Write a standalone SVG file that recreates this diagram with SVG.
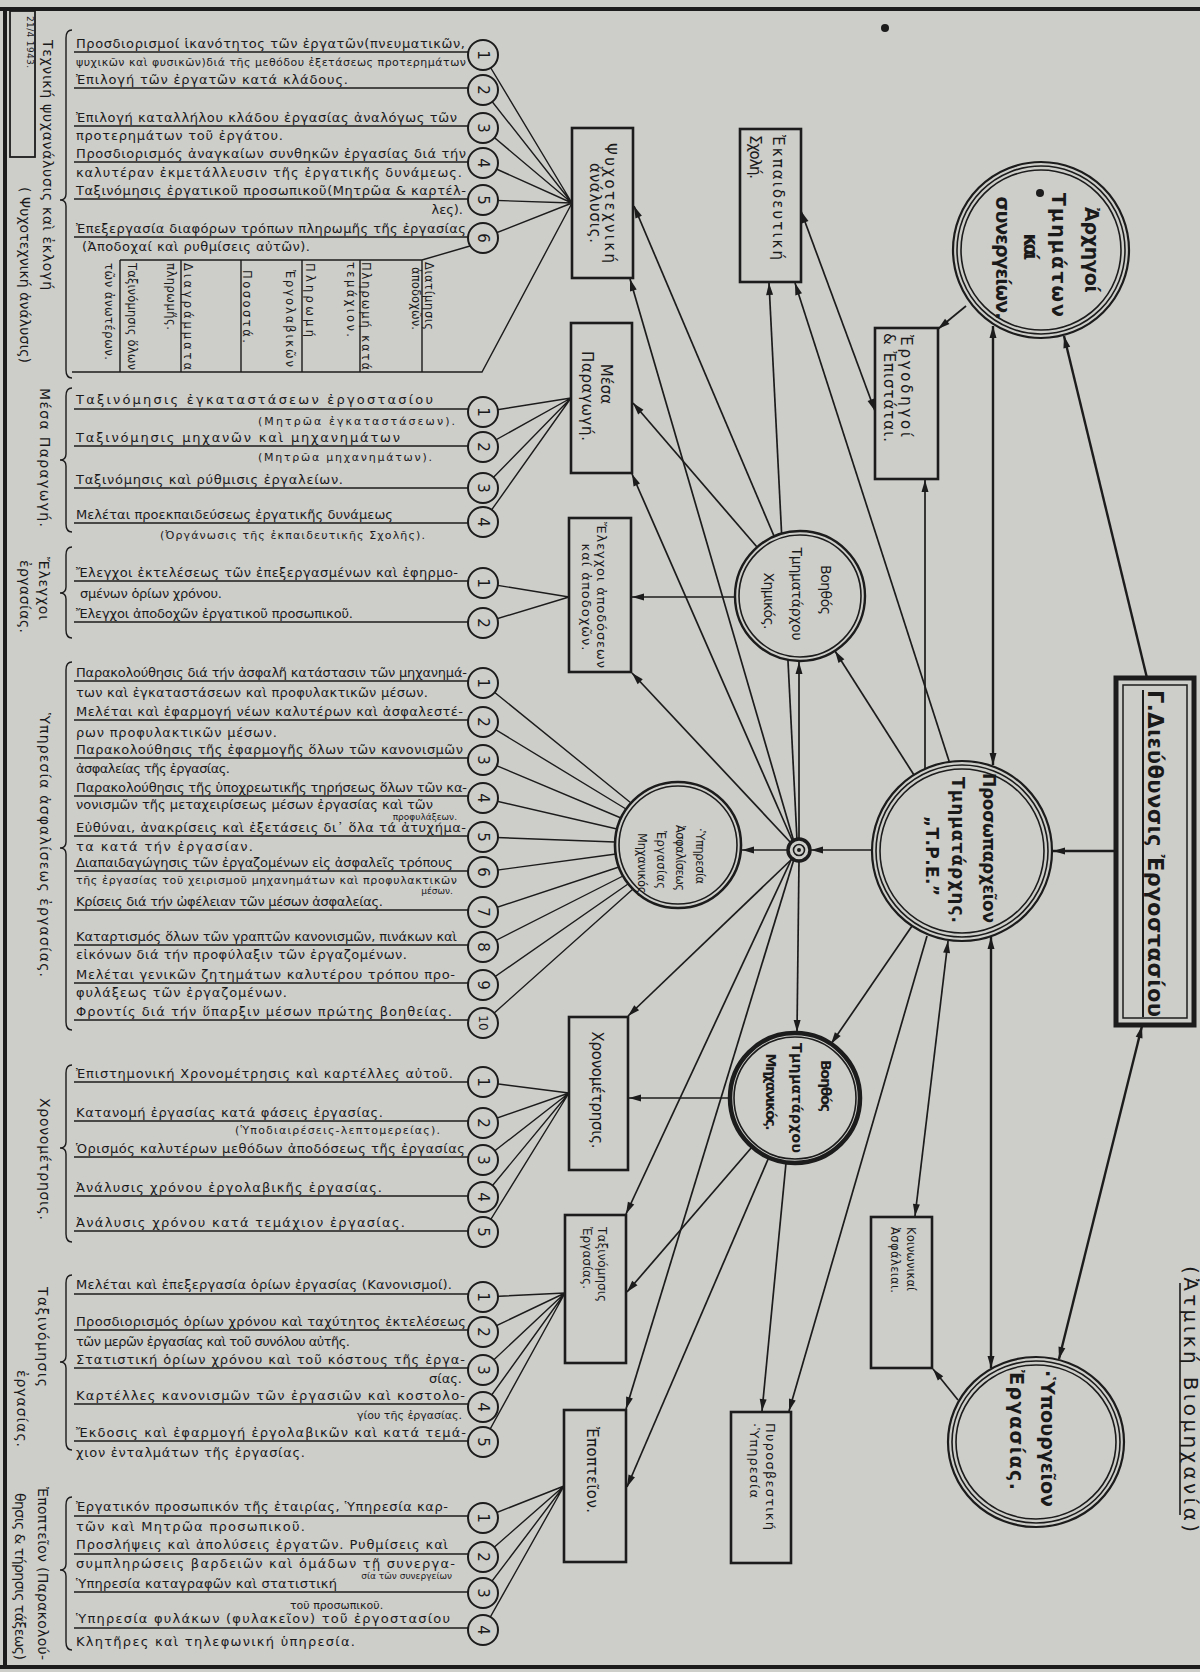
<svg xmlns="http://www.w3.org/2000/svg" width="1200" height="1672" viewBox="0 0 1200 1672">
<defs>
<style>
.ln{stroke:#1c1c1c;stroke-width:1.4;fill:none}
.cn{stroke:#1c1c1c;stroke-width:1.7;fill:none}
.ck{stroke:#1c1c1c;stroke-width:2.4;fill:none}
.fr{stroke:#1c1c1c;stroke-width:4;fill:none}
.box{fill:#cdcdca;stroke:#1c1c1c;stroke-width:2.6}
.nc{fill:#cdcdca;stroke:#1c1c1c;stroke-width:2}
.el{fill:none;stroke:#1c1c1c;stroke-width:1.6}
text{font-family:"DejaVu Sans","Noto Sans",sans-serif;fill:#1a1a1a}
.t{font-size:13px}
.s{font-size:11px}
.x{font-size:9px}
.n{font-size:15px}
.lb{font-size:14px}
.m{font-size:15px}
.sb{font-size:11.5px}
.b{font-weight:bold}
</style>
<marker id="ah" viewBox="0 0 12 8" refX="12" refY="4" markerWidth="13" markerHeight="8" markerUnits="userSpaceOnUse" orient="auto-start-reverse"><path d="M0,0.5 L12,4 L0,7.5 Z" fill="#1c1c1c"/></marker>
</defs>
<rect width="1200" height="1672" fill="#cdcdca"/>
<g id="frame">
<path class="fr" d="M0,9H1200M5,7V1668M0,1667H1200"/>
<rect x="10" y="11" width="25" height="146" fill="none" stroke="#1c1c1c" stroke-width="1.8"/>
<text class="x" transform="translate(27,16) rotate(90)" textLength="52">21/4 1943.</text>
<circle cx="885" cy="28" r="4" fill="#1c1c1c"/>
</g>

<g id="section-labels">
<text class="lb" transform="translate(43,40) rotate(90)" textLength="250">Τεχνική ψυχανάλυσις καὶ ἐκλογή</text>
<text class="lb" transform="translate(20,187) rotate(90)" textLength="176">( Ψυχοτεχνική ἀνάλυσις)</text>
<text class="lb" transform="translate(40,388) rotate(90)" textLength="139">Μέσα Παραγωγή.</text>
<text class="lb" transform="translate(39,557) rotate(90)" textLength="63">Ἔλεγχοι</text>
<text class="lb" transform="translate(20,560) rotate(90)" textLength="73">ἐργασίας.</text>
<text class="lb" transform="translate(40,713) rotate(90)" textLength="264">Ὑπηρεσία ἀσφαλίσεως ἐργασίας.</text>
<text class="lb" transform="translate(40,1098) rotate(90)" textLength="122">Χρονομέτρησις.</text>
<text class="lb" transform="translate(38,1287) rotate(90)" textLength="100">Ταξινόμησις</text>
<text class="lb" transform="translate(17,1370) rotate(90)" textLength="77">ἐργασίας.</text>
<text class="lb" transform="translate(38,1487) rotate(90)" textLength="173">Ἐποπτεῖον (Παρακολού-</text>
<text class="lb" transform="translate(15,1493) rotate(90)" textLength="167">θησις &amp; τήρησις τάξεως)</text>
<path class="ln" stroke-width="1.8" d="M72,30Q66,30 66,38L66,194Q66,200 60,200Q66,200 66,206L66,370Q66,378 72,378
M72,388Q66,388 66,396L66,454Q66,460 60,460Q66,460 66,466L66,524Q66,532 72,532
M72,547Q66,547 66,555L66,587Q66,593 60,593Q66,593 66,599L66,630Q66,638 72,638
M72,662Q66,662 66,670L66,842Q66,848 60,848Q66,848 66,854L66,1022Q66,1030 72,1030
M72,1065Q66,1065 66,1073L66,1142Q66,1148 60,1148Q66,1148 66,1154L66,1234Q66,1242 72,1242
M72,1275Q66,1275 66,1283L66,1356Q66,1362 60,1362Q66,1362 66,1368L66,1442Q66,1450 72,1450
M72,1497Q66,1497 66,1505L66,1564Q66,1570 60,1570Q66,1570 66,1576L66,1642Q66,1650 72,1650"/>
</g>

<g id="connectors">
<path class="ln" d="M483,55L572,203M483,90L572,203M483,128L572,203M483,163L572,203M483,200L572,203M483,238L572,203
M72,372H482L572,203M120,260H422L470,246M120,260V372M181,260V372M241,260V372M302,260V372M360,260V372M422,260V372
M483,412L571,398M483,447L571,398M483,488L571,398M483,522L571,398
M483,583L569,597M483,623L569,597
M483,683L631,803M483,722L626,809M483,760L621,818M483,798L617,829M483,837L615,842M483,872L616,854M483,912L619,867M483,947L623,876M483,985L628,884M483,1023L633,889
M483,1082L569,1093M483,1123L569,1093M483,1160L569,1093M483,1197L569,1093M483,1232L569,1093
M483,1297L565,1293M483,1332L565,1293M483,1370L565,1293M483,1407L565,1293M483,1442L565,1293
M483,1518L564,1486M483,1557L564,1486M483,1593L564,1486M483,1630L564,1486"/>
<path class="ln" d="M74,52H483M74,88H483M74,126H483M74,162H483M74,199H483M74,237H483
M74,409H483M74,446H483M74,488H483M74,523H483
M74,581H483M74,622H483
M74,681H483M74,720H483M74,758H483M74,796H483M74,836H483M74,871H483M74,910H483M74,945H483M74,983H483M74,1020H483
M74,1082H483M74,1121H483M74,1157H483M74,1196H483M74,1231H483
M74,1294H483M74,1330H483M74,1368H483M74,1404H483M74,1441H483
M74,1516H483M74,1554H483M74,1592H483M74,1628H483"/>
<g class="cn" marker-end="url(#ah)">
<path class="ck" d="M1147,678L1064,336"/>
<path d="M966,306L938,329"/>
<path d="M925,770L925,480"/>
<path d="M950,764L795,283"/>
<path d="M797,840L769,283"/>
<path d="M794,842L630,279"/>
<path d="M774,536L634,206"/>
<path d="M757,547L633,403"/>
<path d="M793,842L632,474"/>
<path d="M792,844L632,673"/>
<path d="M735,597L632,597"/>
<path d="M799,840L799,662"/>
<path d="M914,775L835,651"/>
<path d="M872,850L811,850"/>
<path d="M789,850L742,850"/>
<path class="ck" d="M1116,851L1053,851"/>
<path d="M793,858L628,1016"/>
<path d="M799,861L797,1032"/>
<path d="M912,926L831,1044"/>
<path d="M730,1098L629,1098"/>
<path d="M792,858L626,1214"/>
<path d="M794,859L626,1409"/>
<path d="M752,1147L627,1292"/>
<path d="M769,1157L627,1487"/>
<path d="M786,1163L762,1411"/>
<path d="M927,936L789,1411"/>
<path d="M958,1400L933,1369"/>
</g>
<g class="cn" marker-start="url(#ah)" marker-end="url(#ah)">
<path class="ck" d="M993,326L993,765"/>
<path d="M801,211L875,411"/>
<path d="M948,941L915,1216"/>
<path class="ck" d="M991,937L991,1368"/>
<path class="ck" d="M1142,1026L1059,1359"/>
</g>
</g>

<g id="list-psychotechnical">
<text class="t" x="76" y="48" textLength="389">Προσδιορισμοί ἱκανότητος τῶν ἐργατῶν(πνευματικῶν,</text>
<text class="s" x="76" y="66" textLength="390">ψυχικῶν καὶ φυσικῶν)διά τῆς μεθόδου ἐξετάσεως προτερημάτων</text>
<text class="t" x="76" y="84" textLength="272">Ἐπιλογή τῶν ἐργατῶν κατά κλάδους.</text>
<text class="t" x="76" y="122" textLength="381">Ἐπιλογή καταλλήλου κλάδου ἐργασίας ἀναλόγως τῶν</text>
<text class="t" x="76" y="140" textLength="207">προτερημάτων τοῦ ἐργάτου.</text>
<text class="t" x="76" y="158" textLength="390">Προσδιορισμός ἀναγκαίων συνθηκῶν ἐργασίας διά τήν</text>
<text class="t" x="76" y="177" textLength="386">καλυτέραν ἐκμετάλλευσιν τῆς ἐργατικῆς δυνάμεως.</text>
<text class="t" x="76" y="195" textLength="390">Ταξινόμησις ἐργατικοῦ προσωπικοῦ(Μητρῶα &amp; καρτέλ-</text>
<text class="t" x="463" y="214" text-anchor="end">λες).</text>
<text class="t" x="76" y="233" textLength="390">Ἐπεξεργασία διαφόρων τρόπων πληρωμῆς τῆς ἐργασίας</text>
<text class="t" x="82" y="251" textLength="228">(Ἀποδοχαί καὶ ρυθμίσεις αὐτῶν).</text>
<text class="sb" transform="translate(128,263) rotate(90)" textLength="107">Ταξινόμησις ὅλων</text>
<text class="sb" transform="translate(105,263) rotate(90)" textLength="97">τῶν ἀνωτέρων.</text>
<text class="sb" transform="translate(184,263) rotate(90)" textLength="107">Διαγράμματα</text>
<text class="sb" transform="translate(167,263) rotate(90)" textLength="67">πληρωμῆς.</text>
<text class="sb" transform="translate(243,270) rotate(90)" textLength="73">Ποσοστά.</text>
<text class="sb" transform="translate(306,263) rotate(90)" textLength="74">Πληρωμή</text>
<text class="sb" transform="translate(286,270) rotate(90)" textLength="97">Ἐργολαβικῶν</text>
<text class="sb" transform="translate(362,262) rotate(90)" textLength="108">Πληρωμή κατά</text>
<text class="sb" transform="translate(347,262) rotate(90)" textLength="75">τεμάχιον.</text>
<text class="sb" transform="translate(425,262) rotate(90)" textLength="68">Διατίμησις</text>
<text class="sb" transform="translate(412,267) rotate(90)" textLength="63">ἀποδοχῶν.</text>
<g class="nc"><circle cx="483" cy="55" r="15"/><circle cx="483" cy="90" r="15"/><circle cx="483" cy="128" r="15"/><circle cx="483" cy="163" r="15"/><circle cx="483" cy="200" r="15"/><circle cx="483" cy="238" r="15"/></g>
<g class="n" text-anchor="middle">
<text transform="translate(478,55) rotate(90)">1</text><text transform="translate(478,90) rotate(90)">2</text><text transform="translate(478,128) rotate(90)">3</text><text transform="translate(478,163) rotate(90)">4</text><text transform="translate(478,200) rotate(90)">5</text><text transform="translate(478,238) rotate(90)">6</text>
</g>
</g>

<g id="list-production">
<text class="t" x="76" y="404" textLength="357">Ταξινόμησις ἐγκαταστάσεων ἐργοστασίου</text>
<text class="s" x="258" y="425" textLength="197">(Μητρῶα ἐγκαταστάσεων).</text>
<text class="t" x="76" y="442" textLength="324">Ταξινόμησις μηχανῶν καὶ μηχανημάτων</text>
<text class="s" x="258" y="461" textLength="174">(Μητρῶα μηχανημάτων).</text>
<text class="t" x="76" y="484" textLength="267">Ταξινόμησις καὶ ρύθμισις ἐργαλείων.</text>
<text class="t" x="76" y="519" textLength="317">Μελέται προεκπαιδεύσεως ἐργατικῆς δυνάμεως</text>
<text class="s" x="160" y="539" textLength="265">(Ὀργάνωσις τῆς ἐκπαιδευτικῆς Σχολῆς).</text>
<g class="nc"><circle cx="483" cy="412" r="15"/><circle cx="483" cy="447" r="15"/><circle cx="483" cy="488" r="15"/><circle cx="483" cy="522" r="15"/></g>
<g class="n" text-anchor="middle">
<text transform="translate(478,412) rotate(90)">1</text><text transform="translate(478,447) rotate(90)">2</text><text transform="translate(478,488) rotate(90)">3</text><text transform="translate(478,522) rotate(90)">4</text>
</g>
</g>

<g id="list-controls">
<text class="t" x="76" y="577" textLength="382">Ἔλεγχοι ἐκτελέσεως τῶν ἐπεξεργασμένων καὶ ἐφηρμο-</text>
<text class="t" x="80" y="598" textLength="142">σμένων ὁρίων χρόνου.</text>
<text class="t" x="76" y="618" textLength="277">Ἔλεγχοι ἀποδοχῶν ἐργατικοῦ προσωπικοῦ.</text>
<g class="nc"><circle cx="483" cy="583" r="15"/><circle cx="483" cy="623" r="15"/></g>
<g class="n" text-anchor="middle">
<text transform="translate(478,583) rotate(90)">1</text><text transform="translate(478,623) rotate(90)">2</text>
</g>
</g>

<g id="list-safety">
<text class="t" x="76" y="677" textLength="391">Παρακολούθησις διά τήν ἀσφαλῆ κατάστασιν τῶν μηχανημά-</text>
<text class="t" x="76" y="697" textLength="352">των καὶ ἐγκαταστάσεων καὶ προφυλακτικῶν μέσων.</text>
<text class="t" x="76" y="716" textLength="387">Μελέται καὶ ἐφαρμογή νέων καλυτέρων καὶ ἀσφαλεστέ-</text>
<text class="t" x="76" y="737" textLength="201">ρων προφυλακτικῶν μέσων.</text>
<text class="t" x="76" y="754" textLength="387">Παρακολούθησις τῆς ἐφαρμογῆς ὅλων τῶν κανονισμῶν</text>
<text class="t" x="76" y="773" textLength="154">ἀσφαλείας τῆς ἐργασίας.</text>
<text class="t" x="76" y="792" textLength="391">Παρακολούθησις τῆς ὑποχρεωτικῆς τηρήσεως ὅλων τῶν κα-</text>
<text class="t" x="76" y="809" textLength="357">νονισμῶν τῆς μεταχειρίσεως μέσων ἐργασίας καὶ τῶν</text>
<text class="x" x="457" y="820" text-anchor="end">προφυλάξεων.</text>
<text class="t" x="76" y="832" textLength="390">Εὐθύναι, ἀνακρίσεις καὶ ἐξετάσεις δι᾽ ὅλα τά ἀτυχήμα-</text>
<text class="t" x="76" y="851" textLength="177">τα κατά τήν ἐργασίαν.</text>
<text class="t" x="76" y="867" textLength="377">Διαπαιδαγώγησις τῶν ἐργαζομένων εἰς ἀσφαλεῖς τρόπους</text>
<text class="s" x="76" y="884" textLength="381">τῆς ἐργασίας τοῦ χειρισμοῦ μηχανημάτων καὶ προφυλακτικῶν</text>
<text class="x" x="453" y="894" text-anchor="end">μέσων.</text>
<text class="t" x="76" y="906" textLength="307">Κρίσεις διά τήν ὠφέλειαν τῶν μέσων ἀσφαλείας.</text>
<text class="t" x="76" y="941" textLength="381">Καταρτισμός ὅλων τῶν γραπτῶν κανονισμῶν, πινάκων καὶ</text>
<text class="t" x="76" y="959" textLength="331">εἰκόνων διά τήν προφύλαξιν τῶν ἐργαζομένων.</text>
<text class="t" x="76" y="979" textLength="379">Μελέται γενικῶν ζητημάτων καλυτέρου τρόπου προ-</text>
<text class="t" x="76" y="997" textLength="211">φυλάξεως τῶν ἐργαζομένων.</text>
<text class="t" x="76" y="1016" textLength="376">Φροντίς διά τήν ὕπαρξιν μέσων πρώτης βοηθείας.</text>
<g class="nc"><circle cx="483" cy="683" r="15"/><circle cx="483" cy="722" r="15"/><circle cx="483" cy="760" r="15"/><circle cx="483" cy="798" r="15"/><circle cx="483" cy="837" r="15"/><circle cx="483" cy="872" r="15"/><circle cx="483" cy="912" r="15"/><circle cx="483" cy="947" r="15"/><circle cx="483" cy="985" r="15"/><circle cx="483" cy="1023" r="15"/></g>
<g class="n" text-anchor="middle">
<text transform="translate(478,683) rotate(90)">1</text><text transform="translate(478,722) rotate(90)">2</text><text transform="translate(478,760) rotate(90)">3</text><text transform="translate(478,798) rotate(90)">4</text><text transform="translate(478,837) rotate(90)">5</text><text transform="translate(478,872) rotate(90)">6</text><text transform="translate(478,912) rotate(90)">7</text><text transform="translate(478,947) rotate(90)">8</text><text transform="translate(478,985) rotate(90)">9</text><text transform="translate(479,1023) rotate(90)" font-size="12">10</text>
</g>
</g>

<g id="list-timing">
<text class="t" x="76" y="1078" textLength="377">Ἐπιστημονική Χρονομέτρησις καὶ καρτέλλες αὐτοῦ.</text>
<text class="t" x="76" y="1117" textLength="307">Κατανομή ἐργασίας κατά φάσεις ἐργασίας.</text>
<text class="s" x="235" y="1134" textLength="205">(Ὑποδιαιρέσεις-λεπτομερείας).</text>
<text class="t" x="76" y="1153" textLength="389">Ὁρισμός καλυτέρων μεθόδων ἀποδόσεως τῆς ἐργασίας</text>
<text class="t" x="76" y="1192" textLength="306">Ἀνάλυσις χρόνου ἐργολαβικῆς ἐργασίας.</text>
<text class="t" x="76" y="1227" textLength="329">Ἀνάλυσις χρόνου κατά τεμάχιον ἐργασίας.</text>
<g class="nc"><circle cx="483" cy="1082" r="15"/><circle cx="483" cy="1123" r="15"/><circle cx="483" cy="1160" r="15"/><circle cx="483" cy="1197" r="15"/><circle cx="483" cy="1232" r="15"/></g>
<g class="n" text-anchor="middle">
<text transform="translate(478,1082) rotate(90)">1</text><text transform="translate(478,1123) rotate(90)">2</text><text transform="translate(478,1160) rotate(90)">3</text><text transform="translate(478,1197) rotate(90)">4</text><text transform="translate(478,1232) rotate(90)">5</text>
</g>
</g>

<g id="list-classification">
<text class="t" x="76" y="1289" textLength="376">Μελέται καὶ ἐπεξεργασία ὁρίων ἐργασίας (Κανονισμοί).</text>
<text class="t" x="76" y="1326" textLength="390">Προσδιορισμός ὁρίων χρόνου καὶ ταχύτητος ἐκτελέσεως</text>
<text class="t" x="76" y="1346" textLength="274">τῶν μερῶν ἐργασίας καὶ τοῦ συνόλου αὐτῆς.</text>
<text class="t" x="76" y="1364" textLength="389">Στατιστική ὁρίων χρόνου καὶ τοῦ κόστους τῆς ἐργα-</text>
<text class="t" x="462" y="1383" text-anchor="end">σίας.</text>
<text class="t" x="76" y="1400" textLength="389">Καρτέλλες κανονισμῶν τῶν ἐργασιῶν καὶ κοστολο-</text>
<text class="s" x="462" y="1419" text-anchor="end">γίου τῆς ἐργασίας.</text>
<text class="t" x="76" y="1437" textLength="390">Ἔκδοσις καὶ ἐφαρμογή ἐργολαβικῶν καὶ κατά τεμά-</text>
<text class="t" x="76" y="1457" textLength="229">χιον ἐνταλμάτων τῆς ἐργασίας.</text>
<g class="nc"><circle cx="483" cy="1297" r="15"/><circle cx="483" cy="1332" r="15"/><circle cx="483" cy="1370" r="15"/><circle cx="483" cy="1407" r="15"/><circle cx="483" cy="1442" r="15"/></g>
<g class="n" text-anchor="middle">
<text transform="translate(478,1297) rotate(90)">1</text><text transform="translate(478,1332) rotate(90)">2</text><text transform="translate(478,1370) rotate(90)">3</text><text transform="translate(478,1407) rotate(90)">4</text><text transform="translate(478,1442) rotate(90)">5</text>
</g>
</g>

<g id="list-supervision">
<text class="t" x="76" y="1511" textLength="372">Ἐργατικόν προσωπικόν τῆς ἐταιρίας, Ὑπηρεσία καρ-</text>
<text class="t" x="76" y="1531" textLength="229">τῶν καὶ Μητρῶα προσωπικοῦ.</text>
<text class="t" x="76" y="1549" textLength="372">Προσλήψεις καὶ ἀπολύσεις ἐργατῶν. Ρυθμίσεις καὶ</text>
<text class="t" x="76" y="1568" textLength="379">συμπληρώσεις βαρδειῶν καὶ ὁμάδων τῇ συνεργα-</text>
<text class="x" x="452" y="1579" text-anchor="end">σία τῶν συνεργείων</text>
<text class="t" x="76" y="1588" textLength="261">Ὑπηρεσία καταγραφῶν καὶ στατιστική</text>
<text class="s" x="290" y="1609">τοῦ προσωπικοῦ.</text>
<text class="t" x="76" y="1623" textLength="374">Ὑπηρεσία φυλάκων (φυλακεῖον) τοῦ ἐργοστασίου</text>
<text class="t" x="76" y="1646" textLength="279">Κλητῆρες καὶ τηλεφωνική ὑπηρεσία.</text>
<g class="nc"><circle cx="483" cy="1518" r="15"/><circle cx="483" cy="1557" r="15"/><circle cx="483" cy="1593" r="15"/><circle cx="483" cy="1630" r="15"/></g>
<g class="n" text-anchor="middle">
<text transform="translate(478,1518) rotate(90)">1</text><text transform="translate(478,1557) rotate(90)">2</text><text transform="translate(478,1593) rotate(90)">3</text><text transform="translate(478,1630) rotate(90)">4</text>
</g>
</g>

<g id="node-psychotechnical">
<rect class="box" x="572" y="128" width="61" height="150"/>
<text class="m" transform="translate(605,203) rotate(90)" text-anchor="middle" textLength="120">Ψυχοτεχνική</text>
<text class="m" transform="translate(590,203) rotate(90)" text-anchor="middle" textLength="80">ἀνάλυσις.</text>
</g>
<g id="node-means">
<rect class="box" x="571" y="323" width="61" height="150"/>
<text class="m" transform="translate(601,384) rotate(90)" text-anchor="middle">Μέσα</text>
<text class="m" transform="translate(582,396) rotate(90)" text-anchor="middle" textLength="90">Παραγωγή.</text>
</g>
<g id="node-controls">
<rect class="box" x="569" y="518" width="62" height="154"/>
<text class="t" font-size="13" transform="translate(597,595) rotate(90)" text-anchor="middle" textLength="146">Ἔλεγχοι ἀποδόσεων</text>
<text class="t" font-size="13" transform="translate(582,597) rotate(90)" text-anchor="middle" textLength="107">καί ἀποδοχῶν.</text>
</g>
<g id="node-timing">
<rect class="box" x="569" y="1017" width="59" height="153"/>
<text class="m" transform="translate(592,1090) rotate(90)" text-anchor="middle" textLength="117">Χρονομέτρησις.</text>
</g>
<g id="node-classification">
<rect class="box" x="565" y="1215" width="61" height="148"/>
<text font-size="12" transform="translate(598,1227) rotate(90)" textLength="75">Ταξινόμησις</text>
<text font-size="12" transform="translate(583,1227) rotate(90)" textLength="62">Ἐργασίας.</text>
</g>
<g id="node-supervision">
<rect class="box" x="564" y="1410" width="62" height="152"/>
<text class="m" transform="translate(587,1427) rotate(90)" textLength="86">Ἐποπτεῖον.</text>
</g>
<g id="node-school">
<rect class="box" x="740" y="129" width="61" height="153"/>
<text class="m" transform="translate(773,135) rotate(90)" textLength="125">Ἐκπαιδευτική</text>
<text class="m" transform="translate(750,135) rotate(90)" textLength="44">Σχολή.</text>
</g>
<g id="node-foremen">
<rect class="box" x="875" y="328" width="63" height="151"/>
<text class="m" transform="translate(901,335) rotate(90)" textLength="102">Ἐργοδηγοί</text>
<text class="m" transform="translate(884,333) rotate(90)" textLength="109">&amp; Ἐπιστάται.</text>
</g>
<g id="node-social-insurance">
<rect class="box" x="871" y="1217" width="61" height="151"/>
<text font-size="11.5" transform="translate(907,1227) rotate(90)" textLength="64">Κοινωνικαί</text>
<text font-size="11.5" transform="translate(891,1227) rotate(90)" textLength="66">Ἀσφάλειαι.</text>
</g>
<g id="node-fire-service">
<rect class="box" x="731" y="1412" width="60" height="151"/>
<text font-size="13" transform="translate(766,1423) rotate(90)" textLength="107">Πυροσβεστική</text>
<text font-size="13" transform="translate(750,1423) rotate(90)" textLength="75">·Ὑπηρεσία</text>
</g>
<g id="node-general-direction">
<rect x="1116" y="678" width="78" height="347" fill="#cdcdca" stroke="#1c1c1c" stroke-width="5"/>
<rect x="1123" y="685" width="64" height="333" fill="none" stroke="#1c1c1c" stroke-width="1.5"/>
<text class="b" font-size="21" transform="translate(1148,690) rotate(90)" textLength="327">Γ.Διεύθυνσις Ἐργοστασίου</text>
<path d="M1143,690V1017" stroke="#1c1c1c" stroke-width="2"/>
</g>
<g id="node-department-heads">
<circle cx="1041" cy="250" r="88" fill="#cdcdca" stroke="#1c1c1c" stroke-width="2.2"/>
<circle class="el" cx="1041" cy="250" r="84"/>
<circle class="el" cx="1041" cy="250" r="80"/>
<circle cx="1040" cy="193" r="4" fill="#1c1c1c"/>
<g class="b" font-size="19" text-anchor="middle">
<text transform="translate(1085,250) rotate(90)" textLength="86">Ἀρχηγοί</text>
<text transform="translate(1052,255) rotate(90)" textLength="124">Τμημάτων</text>
<text transform="translate(1024,247) rotate(90)" textLength="27">καί</text>
<text transform="translate(996,258) rotate(90)" textLength="123">συνεργείων.</text>
</g>
</g>
<g id="node-personnel-head">
<circle cx="962" cy="851" r="90" fill="#cdcdca" stroke="#1c1c1c" stroke-width="2.2"/>
<circle class="el" cx="962" cy="851" r="86"/>
<circle class="el" cx="962" cy="851" r="82"/>
<g class="b" font-size="17" text-anchor="middle">
<text transform="translate(983,848) rotate(90)" textLength="150">Προσωπαρχεῖον</text>
<text transform="translate(952,850) rotate(90)" textLength="146">Τμηματάρχης.</text>
<text transform="translate(926,856) rotate(90)" textLength="80">„Τ.Ρ.Ε.”</text>
</g>
</g>
<g id="node-ministry">
<ellipse cx="1036" cy="1442" rx="88" ry="85" fill="#cdcdca" stroke="#1c1c1c" stroke-width="2.2"/>
<ellipse class="el" cx="1036" cy="1442" rx="84" ry="81"/>
<ellipse class="el" cx="1036" cy="1442" rx="80" ry="77"/>
<g class="b" font-size="19">
<text transform="translate(1041,1370) rotate(90)" textLength="137">·Ὑπουργεῖον</text>
<text transform="translate(1010,1370) rotate(90)" textLength="120">Ἐργασίας.</text>
</g>
</g>
<g id="node-asst-chemist">
<circle cx="800" cy="596" r="65" fill="#cdcdca" stroke="#1c1c1c" stroke-width="2.4"/>
<circle class="el" cx="800" cy="596" r="61"/>
<g font-size="14" text-anchor="middle">
<text transform="translate(821,590) rotate(90)" textLength="50">Βοηθός</text>
<text transform="translate(792,594) rotate(90)" textLength="93">Τμηματάρχου</text>
<text transform="translate(764,601) rotate(90)" textLength="57">Χημικός.</text>
</g>
</g>
<g id="node-safety-service">
<circle cx="678" cy="845" r="63" fill="#cdcdca" stroke="#1c1c1c" stroke-width="2.6"/>
<circle class="el" cx="678" cy="845" r="59"/>
<g font-size="11.5" text-anchor="middle">
<text transform="translate(696,856) rotate(90)" textLength="56">·Ὑπηρεσία</text>
<text transform="translate(676,858) rotate(90)" textLength="66">Ἀσφαλίσεως</text>
<text transform="translate(657,860) rotate(90)" textLength="58">Ἐργασίας</text>
<text transform="translate(638,865) rotate(90)" textLength="64">Μηχανικός.</text>
</g>
</g>
<g id="node-asst-engineer">
<circle cx="795" cy="1098" r="65" fill="#cdcdca" stroke="#1c1c1c" stroke-width="4.5"/>
<circle class="el" cx="795" cy="1098" r="61" stroke-width="1.2"/>
<g class="b" font-size="14" text-anchor="middle">
<text transform="translate(821,1086) rotate(90)" textLength="52">Βοηθός</text>
<text transform="translate(792,1098) rotate(90)" textLength="110">Τμηματάρχου</text>
<text transform="translate(766,1092) rotate(90)" textLength="77">Μηχανικός.</text>
</g>
</g>
<g id="node-hub">
<circle cx="799" cy="850" r="11" fill="#cdcdca" stroke="#1c1c1c" stroke-width="3.5"/>
<circle cx="799" cy="850" r="5.5" fill="none" stroke="#1c1c1c" stroke-width="1.6"/>
<circle cx="799" cy="850" r="2" fill="#1c1c1c"/>
</g>
<g id="title-steam-industry">
<text font-size="20" transform="translate(1184,1266) rotate(90)" textLength="266">(Ἀτμική Βιομηχανία)</text>
<path d="M1180,1283V1515" stroke="#1c1c1c" stroke-width="1.6"/>
</g>
</svg>
